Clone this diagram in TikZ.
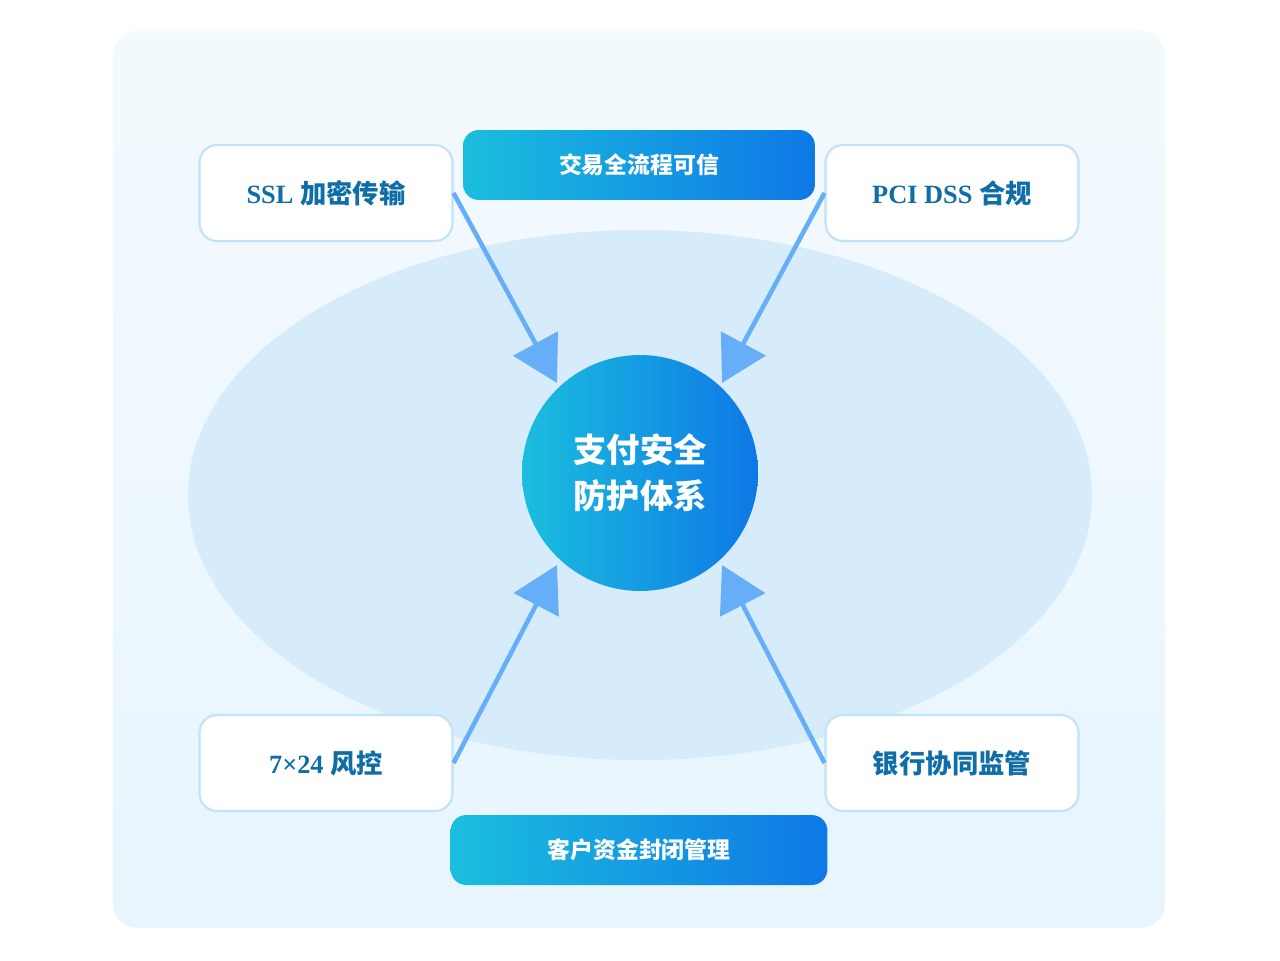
\documentclass[tikz,border=0pt]{standalone}
\usepackage{fontspec}
\setmainfont{Liberation Serif}
\newfontfamily\cjk{Noto Sans CJK SC}
\usetikzlibrary{positioning, arrows.meta, shapes.geometric, shadings}
\definecolor{paybg}{RGB}{236,247,254}
\definecolor{payoval}{RGB}{214,236,251}
\definecolor{paycyan}{RGB}{27,190,222}
\definecolor{payblue}{RGB}{14,120,230}
\definecolor{payedge}{RGB}{190,227,251}
\definecolor{paytext}{RGB}{15,110,168}
\definecolor{payarrow}{RGB}{102,174,247}
\tikzset{
    pillar/.style={rounded corners=9pt, left color=paycyan, right color=payblue, text=white,
        font=\cjk\bfseries\fontsize{13}{15}\selectfont, inner sep=0pt},
    guard/.style={draw=payedge, line width=1.2pt, fill=white, rounded corners=10pt,
        minimum width=5.06cm, minimum height=1.92cm, text=paytext,
        font=\bfseries\fontsize{15}{17}\selectfont},
    feed/.style={draw=payarrow, line width=2.6pt, -{Triangle[length=0.9cm, width=1cm]}}
}
\begin{document}
\begin{tikzpicture}[x=0.02cm, y=-0.02cm]
    \useasboundingbox (0,0) rectangle (1280,960);
    \fill[white] (0,0) rectangle (1280,960);
    \shade[rounded corners=14pt, top color=white!40!paybg, bottom color=paybg!80!payoval]
        (113,31) rectangle (1165,928);
    \fill[payoval] (640,495) ellipse [x radius=452, y radius=265];

    \node (trade) [pillar, minimum width=7.04cm, minimum height=1.4cm] at (639,165) {交易全流程可信};
    \node (fund)  [pillar, minimum width=7.54cm, minimum height=1.4cm] at (639,850) {客户资金封闭管理};

    \node (core) [circle, minimum size=4.72cm, inner sep=0pt, shading=axis, shading angle=135,
        left color=paycyan, right color=payblue,
        text=white, align=center, font=\cjk\bfseries\fontsize{19}{26}\selectfont] at (640,473)
        {支付安全\\防护体系};

    \node (ssl)  [guard] at (326,193) {SSL {\cjk 加密传输}};
    \node (pci)  [guard] at (952,193) {PCI DSS {\cjk 合规}};
    \node (risk) [guard] at (326,763) {7×24 {\cjk 风控}};
    \node (bank) [guard] at (952,763) {\cjk 银行协同监管};

    \coordinate (hitNW) at (557,383);
    \coordinate (hitNE) at (722,383);
    \coordinate (hitSW) at (557,565);
    \coordinate (hitSE) at (722,565);

    \draw[feed] (ssl.east)  -- (hitNW);
    \draw[feed] (pci.west)  -- (hitNE);
    \draw[feed] (risk.east) -- (hitSW);
    \draw[feed] (bank.west) -- (hitSE);
\end{tikzpicture}
\end{document}
